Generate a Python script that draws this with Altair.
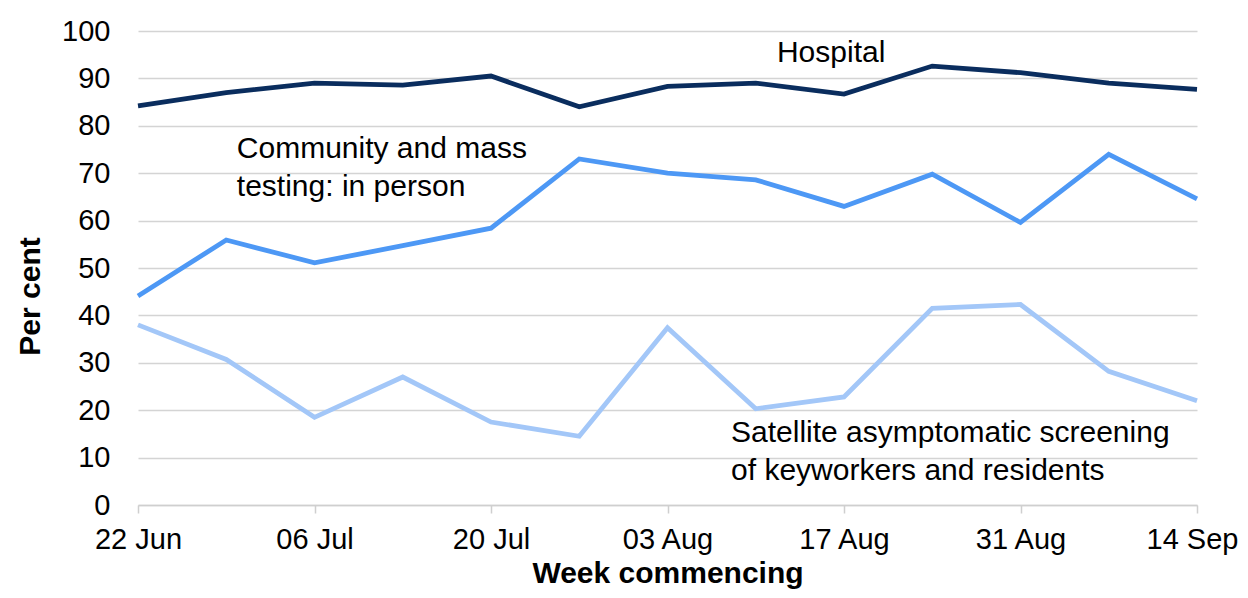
import altair as alt
import pandas as pd

weeks = list(range(13))
week_labels = ["22 Jun", "29 Jun", "06 Jul", "13 Jul", "20 Jul", "27 Jul", "03 Aug",
               "10 Aug", "17 Aug", "24 Aug", "31 Aug", "07 Sep", "14 Sep"]
hospital = [84.2, 87.0, 89.0, 88.6, 90.5, 84.0, 88.3, 89.0, 86.7, 92.6, 91.2, 89.0, 87.7]
community = [44.1, 55.9, 51.1, 54.7, 58.4, 73.0, 70.0, 68.6, 63.0, 69.8, 59.6, 74.0, 64.6]
satellite = [38.0, 30.7, 18.5, 27.0, 17.5, 14.5, 37.4, 20.3, 22.8, 41.5, 42.3, 28.2, 22.0]

series_names = ["Hospital", "Community and mass testing: in person",
                "Satellite asymptomatic screening of keyworkers and residents"]
series_colors = ["#0a2d5e", "#4d98f5", "#a3c7f8"]

ann_text = ["Hospital", "Community and mass\ntesting: in person",
            "Satellite asymptomatic screening\nof keyworkers and residents"]
ann_x = [7.24, 1.12, 6.72]
ann_y = [93.5, 73.2, 13.3]

rows = []
for name, vals in zip(series_names, [hospital, community, satellite]):
    for w, v in zip(weeks, vals):
        rows.append({"week": w, "value": v, "series": name})
df = pd.DataFrame(rows)
ann = pd.DataFrame({"text": ann_text, "x": ann_x, "y": ann_y})

FONT = "Liberation Sans"
label_expr = "[" + ",".join(f"'{l}'" for l in week_labels) + "][datum.value]"

x_scale = alt.Scale(domain=[0, 12], nice=False, zero=False)
y_scale = alt.Scale(domain=[0, 100], nice=False)

lines = alt.Chart(df).mark_line(strokeWidth=4.8).encode(
    x=alt.X("week:Q", scale=x_scale,
            axis=alt.Axis(values=[0, 2, 4, 6, 8, 10, 12], labelExpr=label_expr,
                          title="Week commencing", grid=False, domain=True,
                          domainColor="#cfcfcf", domainWidth=1.5,
                          tickColor="#cfcfcf", tickWidth=1.5, tickSize=8,
                          labelPadding=12, labelFontSize=29, labelFont=FONT,
                          labelColor="#000000", titleFont=FONT, titleFontSize=30,
                          titleFontWeight="bold", titleColor="#000000", titlePadding=4,
                          labelFlush=False,
                          labelOffset={"condition": {"test": "datum.value == 12", "value": -5},
                                       "value": 0})),
    y=alt.Y("value:Q", scale=y_scale,
            axis=alt.Axis(values=list(range(0, 101, 10)), title="Per cent",
                          grid=True, gridColor="#d4d4d4", gridWidth=1.5,
                          domain=False, ticks=False, labelPadding=28,
                          labelFontSize=29, labelFont=FONT, labelColor="#000000",
                          titleFont=FONT, titleFontSize=30, titleFontWeight="bold",
                          titleColor="#000000", titlePadding=16, titleY=265)),
    color=alt.Color("series:N", scale=alt.Scale(domain=series_names, range=series_colors),
                    legend=None),
)

texts = alt.Chart(ann).mark_text(align="left", baseline="alphabetic", lineBreak="\n",
                                 lineHeight=38, fontSize=30, font=FONT,
                                 color="#000000").encode(
    x=alt.X("x:Q", scale=x_scale),
    y=alt.Y("y:Q", scale=y_scale),
    text="text:N",
)

chart = alt.layer(lines, texts).properties(
    width=1059, height=474,
    autosize=alt.AutoSizeParams(type="none"),
    padding={"left": 130, "top": 23, "right": 43, "bottom": 85},
).configure_view(stroke=None)

chart.save("out.html", embed_options={"renderer": "svg", "actions": False})
